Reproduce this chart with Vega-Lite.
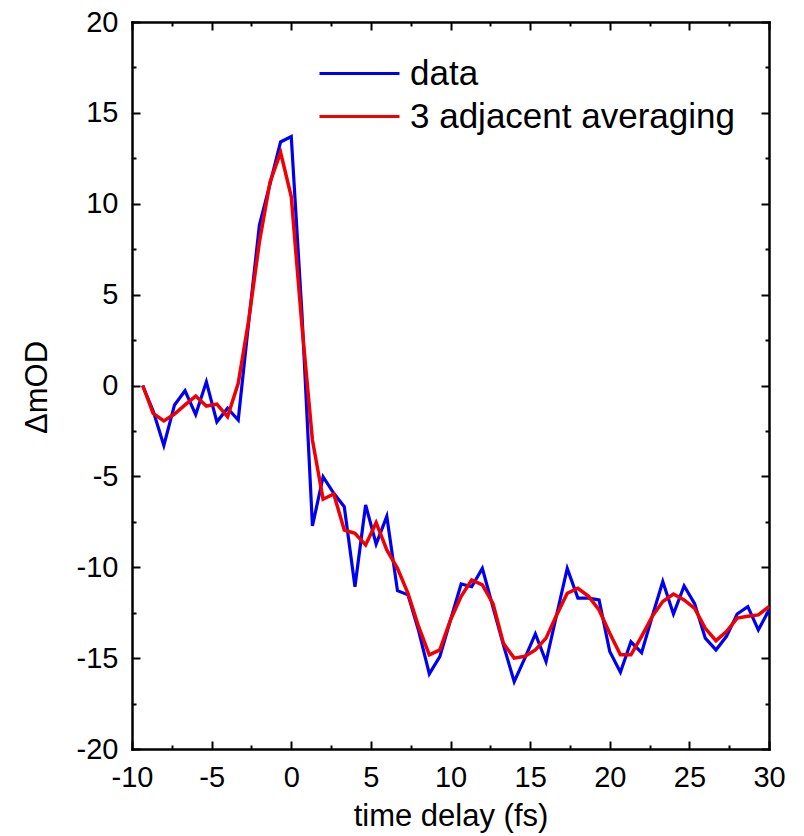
{
  "$schema": "https://vega.github.io/schema/vega-lite/v6.json",
  "width": 637,
  "height": 727,
  "autosize": {"type": "none"},
  "padding": {"left": 132, "top": 22, "right": 35, "bottom": 87},
  "background": "white",
  "config": {
    "font": "Liberation Sans",
    "view": {"stroke": null},
    "axis": {
      "grid": false,
      "domainColor": "black",
      "domainWidth": 2.5,
      "domainCap": "square",
      "tickColor": "black",
      "tickWidth": 2,
      "labelColor": "black",
      "labelFont": "Liberation Sans",
      "labelFontSize": 29,
      "labelFlush": false,
      "labelOverlap": false,
      "titleFont": "Liberation Sans",
      "titleFontSize": 31,
      "titleFontWeight": "normal",
      "titleColor": "black"
    }
  },
  "data": {
    "values": [
      {"t": -9.33, "v": 0, "series": "data"},
      {"t": -8.67, "v": -1.4, "series": "data"},
      {"t": -8, "v": -3.3, "series": "data"},
      {"t": -7.33, "v": -1.07, "series": "data"},
      {"t": -6.67, "v": -0.29, "series": "data"},
      {"t": -6, "v": -1.6, "series": "data"},
      {"t": -5.33, "v": 0.2, "series": "data"},
      {"t": -4.67, "v": -2.0, "series": "data"},
      {"t": -4, "v": -1.25, "series": "data"},
      {"t": -3.33, "v": -1.9, "series": "data"},
      {"t": -2.67, "v": 3.5, "series": "data"},
      {"t": -2, "v": 8.83, "series": "data"},
      {"t": -1.33, "v": 11.1, "series": "data"},
      {"t": -0.67, "v": 13.4, "series": "data"},
      {"t": 0, "v": 13.7, "series": "data"},
      {"t": 0.67, "v": 4.0, "series": "data"},
      {"t": 1.33, "v": -7.73, "series": "data"},
      {"t": 2, "v": -5.02, "series": "data"},
      {"t": 2.67, "v": -5.93, "series": "data"},
      {"t": 3.33, "v": -6.67, "series": "data"},
      {"t": 4, "v": -11.07, "series": "data"},
      {"t": 4.67, "v": -6.57, "series": "data"},
      {"t": 5.33, "v": -8.72, "series": "data"},
      {"t": 6, "v": -7.2, "series": "data"},
      {"t": 6.67, "v": -11.29, "series": "data"},
      {"t": 7.33, "v": -11.52, "series": "data"},
      {"t": 8, "v": -13.5, "series": "data"},
      {"t": 8.67, "v": -15.87, "series": "data"},
      {"t": 9.33, "v": -14.92, "series": "data"},
      {"t": 10, "v": -12.9, "series": "data"},
      {"t": 10.67, "v": -10.92, "series": "data"},
      {"t": 11.33, "v": -11.07, "series": "data"},
      {"t": 12, "v": -10.06, "series": "data"},
      {"t": 12.67, "v": -12.2, "series": "data"},
      {"t": 13.33, "v": -14.3, "series": "data"},
      {"t": 14, "v": -16.3, "series": "data"},
      {"t": 14.67, "v": -15.0, "series": "data"},
      {"t": 15.33, "v": -13.67, "series": "data"},
      {"t": 16, "v": -15.19, "series": "data"},
      {"t": 16.67, "v": -12.6, "series": "data"},
      {"t": 17.33, "v": -10.06, "series": "data"},
      {"t": 18, "v": -11.7, "series": "data"},
      {"t": 18.67, "v": -11.7, "series": "data"},
      {"t": 19.33, "v": -11.8, "series": "data"},
      {"t": 20, "v": -14.64, "series": "data"},
      {"t": 20.67, "v": -15.78, "series": "data"},
      {"t": 21.33, "v": -14.1, "series": "data"},
      {"t": 22, "v": -14.7, "series": "data"},
      {"t": 22.67, "v": -12.7, "series": "data"},
      {"t": 23.33, "v": -10.79, "series": "data"},
      {"t": 24, "v": -12.57, "series": "data"},
      {"t": 24.67, "v": -11.03, "series": "data"},
      {"t": 25.33, "v": -12.0, "series": "data"},
      {"t": 26, "v": -13.9, "series": "data"},
      {"t": 26.67, "v": -14.55, "series": "data"},
      {"t": 27.33, "v": -13.8, "series": "data"},
      {"t": 28, "v": -12.57, "series": "data"},
      {"t": 28.67, "v": -12.17, "series": "data"},
      {"t": 29.33, "v": -13.45, "series": "data"},
      {"t": 30, "v": -12.35, "series": "data"},
      {"t": -9.33, "v": 0, "series": "3 adjacent averaging"},
      {"t": -8.67, "v": -1.53, "series": "3 adjacent averaging"},
      {"t": -8, "v": -1.95, "series": "3 adjacent averaging"},
      {"t": -7.33, "v": -1.57, "series": "3 adjacent averaging"},
      {"t": -6.67, "v": -1.07, "series": "3 adjacent averaging"},
      {"t": -6, "v": -0.58, "series": "3 adjacent averaging"},
      {"t": -5.33, "v": -1.13, "series": "3 adjacent averaging"},
      {"t": -4.67, "v": -1.02, "series": "3 adjacent averaging"},
      {"t": -4, "v": -1.72, "series": "3 adjacent averaging"},
      {"t": -3.33, "v": 0.12, "series": "3 adjacent averaging"},
      {"t": -2.67, "v": 3.6, "series": "3 adjacent averaging"},
      {"t": -2, "v": 7.9, "series": "3 adjacent averaging"},
      {"t": -1.33, "v": 11.2, "series": "3 adjacent averaging"},
      {"t": -0.67, "v": 12.83, "series": "3 adjacent averaging"},
      {"t": 0, "v": 10.4, "series": "3 adjacent averaging"},
      {"t": 0.67, "v": 3.3, "series": "3 adjacent averaging"},
      {"t": 1.33, "v": -3.0, "series": "3 adjacent averaging"},
      {"t": 2, "v": -6.26, "series": "3 adjacent averaging"},
      {"t": 2.67, "v": -5.97, "series": "3 adjacent averaging"},
      {"t": 3.33, "v": -7.95, "series": "3 adjacent averaging"},
      {"t": 4, "v": -8.13, "series": "3 adjacent averaging"},
      {"t": 4.67, "v": -8.77, "series": "3 adjacent averaging"},
      {"t": 5.33, "v": -7.55, "series": "3 adjacent averaging"},
      {"t": 6, "v": -9.05, "series": "3 adjacent averaging"},
      {"t": 6.67, "v": -10.06, "series": "3 adjacent averaging"},
      {"t": 7.33, "v": -11.43, "series": "3 adjacent averaging"},
      {"t": 8, "v": -13.27, "series": "3 adjacent averaging"},
      {"t": 8.67, "v": -14.82, "series": "3 adjacent averaging"},
      {"t": 9.33, "v": -14.55, "series": "3 adjacent averaging"},
      {"t": 10, "v": -12.9, "series": "3 adjacent averaging"},
      {"t": 10.67, "v": -11.6, "series": "3 adjacent averaging"},
      {"t": 11.33, "v": -10.7, "series": "3 adjacent averaging"},
      {"t": 12, "v": -10.97, "series": "3 adjacent averaging"},
      {"t": 12.67, "v": -12.0, "series": "3 adjacent averaging"},
      {"t": 13.33, "v": -14.2, "series": "3 adjacent averaging"},
      {"t": 14, "v": -15.0, "series": "3 adjacent averaging"},
      {"t": 14.67, "v": -14.9, "series": "3 adjacent averaging"},
      {"t": 15.33, "v": -14.55, "series": "3 adjacent averaging"},
      {"t": 16, "v": -13.9, "series": "3 adjacent averaging"},
      {"t": 16.67, "v": -12.62, "series": "3 adjacent averaging"},
      {"t": 17.33, "v": -11.43, "series": "3 adjacent averaging"},
      {"t": 18, "v": -11.16, "series": "3 adjacent averaging"},
      {"t": 18.67, "v": -11.6, "series": "3 adjacent averaging"},
      {"t": 19.33, "v": -12.35, "series": "3 adjacent averaging"},
      {"t": 20, "v": -13.63, "series": "3 adjacent averaging"},
      {"t": 20.67, "v": -14.82, "series": "3 adjacent averaging"},
      {"t": 21.33, "v": -14.82, "series": "3 adjacent averaging"},
      {"t": 22, "v": -13.8, "series": "3 adjacent averaging"},
      {"t": 22.67, "v": -12.7, "series": "3 adjacent averaging"},
      {"t": 23.33, "v": -11.89, "series": "3 adjacent averaging"},
      {"t": 24, "v": -11.47, "series": "3 adjacent averaging"},
      {"t": 24.67, "v": -11.8, "series": "3 adjacent averaging"},
      {"t": 25.33, "v": -12.26, "series": "3 adjacent averaging"},
      {"t": 26, "v": -13.36, "series": "3 adjacent averaging"},
      {"t": 26.67, "v": -14.04, "series": "3 adjacent averaging"},
      {"t": 27.33, "v": -13.54, "series": "3 adjacent averaging"},
      {"t": 28, "v": -12.8, "series": "3 adjacent averaging"},
      {"t": 28.67, "v": -12.7, "series": "3 adjacent averaging"},
      {"t": 29.33, "v": -12.62, "series": "3 adjacent averaging"},
      {"t": 30, "v": -12.17, "series": "3 adjacent averaging"}
    ]
  },
  "layer": [
    {
      "transform": [{"filter": "datum.series === 'data'"}],
      "mark": {"type": "line", "strokeWidth": 3.2},
      "encoding": {
        "x": {
          "field": "t", "type": "quantitative",
          "scale": {"domain": [-10, 30], "nice": false, "zero": false},
          "axis": {
            "orient": "bottom",
            "values": [-10, -7.5, -5, -2.5, 0, 2.5, 5, 7.5, 10, 12.5, 15, 17.5, 20, 22.5, 25, 27.5, 30],
            "labelExpr": "datum.value % 5 === 0 ? '' + datum.value : ''",
            "tickSize": {"condition": {"test": "datum.value % 5 === 0", "value": -8}, "value": -4},
            "labelPadding": 22,
            "title": "time delay (fs)",
            "titleY": 76,
            "titleBaseline": "alphabetic"
          }
        },
        "y": {
          "field": "v", "type": "quantitative",
          "scale": {"domain": [-20, 20], "nice": false, "zero": false},
          "axis": {
            "orient": "left",
            "values": [-20, -17.5, -15, -12.5, -10, -7.5, -5, -2.5, 0, 2.5, 5, 7.5, 10, 12.5, 15, 17.5, 20],
            "labelExpr": "datum.value % 5 === 0 ? '' + datum.value : ''",
            "tickSize": {"condition": {"test": "datum.value % 5 === 0", "value": -8}, "value": -4},
            "labelPadding": 22,
            "title": "ΔmOD",
            "titleAngle": -90,
            "titleX": -86,
            "titleY": 365,
            "titleAlign": "center",
            "titleBaseline": "alphabetic"
          }
        },
        "color": {
          "field": "series", "type": "nominal",
          "scale": {"domain": ["data", "3 adjacent averaging"], "range": ["#0000f0", "#f00000"]},
          "legend": {
            "orient": "none",
            "legendX": 210,
            "legendY": 34,
            "title": null,
            "padding": 0,
            "symbolType": "M-4,0H4",
            "symbolSize": 400,
            "symbolStrokeWidth": 3,
            "labelFont": "Liberation Sans",
            "labelFontSize": 35,
            "labelColor": "black",
            "labelOffset": 33,
            "rowPadding": 7,
            "labelLimit": 600
          }
        }
      }
    },
    {
      "transform": [{"filter": "datum.series !== 'data'"}],
      "mark": {"type": "line", "strokeWidth": 3.5},
      "encoding": {
        "x": {
          "field": "t", "type": "quantitative",
          "scale": {"domain": [-10, 30], "nice": false, "zero": false},
          "axis": {
            "orient": "top",
            "values": [-10, -7.5, -5, -2.5, 0, 2.5, 5, 7.5, 10, 12.5, 15, 17.5, 20, 22.5, 25, 27.5, 30],
            "labels": false,
            "tickSize": {"condition": {"test": "datum.value % 5 === 0", "value": -8}, "value": -4},
            "title": null
          }
        },
        "y": {
          "field": "v", "type": "quantitative",
          "scale": {"domain": [-20, 20], "nice": false, "zero": false},
          "axis": {
            "orient": "right",
            "values": [-20, -17.5, -15, -12.5, -10, -7.5, -5, -2.5, 0, 2.5, 5, 7.5, 10, 12.5, 15, 17.5, 20],
            "labels": false,
            "tickSize": {"condition": {"test": "datum.value % 5 === 0", "value": -8}, "value": -4},
            "title": null
          }
        },
        "color": {
          "field": "series", "type": "nominal",
          "scale": {"domain": ["data", "3 adjacent averaging"], "range": ["#0000f0", "#f00000"]}
        }
      }
    }
  ],
  "resolve": {"axis": {"x": "independent", "y": "independent"}}
}
